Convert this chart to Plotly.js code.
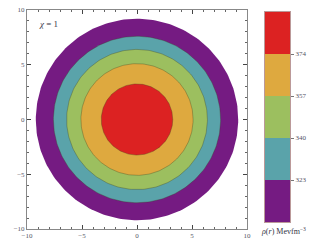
<!DOCTYPE html>
<html><head><meta charset="utf-8">
<script src="https://cdn.plot.ly/plotly-3.0.1.min.js"></script>
<style>html,body{margin:0;padding:0;background:#fff}#plot{width:316px;height:248px}</style>
</head><body><div id="plot"></div>
<script>
// Band boundary radii (outermost first) and their colours
const radii = [9.2, 7.6, 6.4, 5.1, 3.25];
const bandColors = ['#751B82', '#5AA3AA', '#9CBF5F', '#DEA93F', '#DC2222'];
// Colorbar levels (band boundaries) and tick labels
const levelBase = [306, 323, 340, 357, 374];
const levelStep = [17, 17, 17, 17, 17];
const cbTicks = [323, 340, 357, 374];
const axisTicks = [-10, -5, 0, 5, 10];

const traces = [];
const N = 240;
radii.forEach((r, i) => {
  const xs = [], ys = [];
  for (let k = 0; k <= N; k++) {
    const a = 2 * Math.PI * k / N;
    xs.push(r * Math.cos(a)); ys.push(r * Math.sin(a));
  }
  traces.push({
    type: 'scatter', mode: 'lines', x: xs, y: ys, fill: 'toself',
    fillcolor: bandColors[i],
    line: {color: i === 0 ? bandColors[i] : 'rgba(60,60,30,0.55)', width: i === 0 ? 0 : 0.6},
    hoverinfo: 'skip', showlegend: false, xaxis: 'x', yaxis: 'y'
  });
});
traces.push({
  type: 'bar', x: levelBase.map(() => 0), y: levelStep, base: levelBase,
  marker: {color: bandColors, line: {width: 0}},
  xaxis: 'x2', yaxis: 'y2', showlegend: false, hoverinfo: 'skip', width: 1
});

const tickFont = {family: 'Liberation Serif, DejaVu Serif, serif', size: 7, color: '#556'};
const layout = {
  width: 316, height: 248,
  margin: {l: 0, r: 0, t: 0, b: 0},
  paper_bgcolor: '#fff', plot_bgcolor: '#fff',
  bargap: 0,
  xaxis: {
    domain: [27/316, 247/316], range: [-10, 10], tickvals: axisTicks,
    ticktext: axisTicks.map(v => v < 0 ? '−' + Math.abs(v) : String(v)),
    showgrid: false, zeroline: false, showline: true, linecolor: '#888', linewidth: 1,
    mirror: 'allticks', ticks: 'inside', ticklen: 4, tickcolor: '#444', tickwidth: 1,
    minor: {dtick: 1, ticks: 'inside', ticklen: 2, tickcolor: '#666'},
    tickfont: tickFont, fixedrange: true
  },
  yaxis: {
    domain: [1 - 229/248, 1 - 10/248], range: [-10, 10], tickvals: axisTicks,
    ticktext: axisTicks.map(v => v < 0 ? '−' + Math.abs(v) : String(v)),
    showgrid: false, zeroline: false, showline: true, linecolor: '#888', linewidth: 1,
    mirror: 'allticks', ticks: 'inside', ticklen: 4, tickcolor: '#444', tickwidth: 1,
    minor: {dtick: 1, ticks: 'inside', ticklen: 2, tickcolor: '#666'},
    tickfont: tickFont, fixedrange: true
  },
  xaxis2: {
    domain: [265/316, 290/316], range: [-0.5, 0.5], anchor: 'y2',
    showticklabels: false, showgrid: false, zeroline: false, ticks: '',
    showline: true, linecolor: '#b99', linewidth: 1, mirror: true
  },
  yaxis2: {
    domain: [1 - 222/248, 1 - 12/248], range: [306, 391], anchor: 'x2', side: 'right',
    tickvals: cbTicks, ticks: 'outside', ticklen: 3, tickcolor: '#777',
    showgrid: false, zeroline: false, showline: true, linecolor: '#b99', linewidth: 1, mirror: true,
    tickfont: tickFont
  },
  annotations: [
    {xref: 'paper', yref: 'paper', x: 37/316, y: 1 - 24/248, xanchor: 'left', yanchor: 'middle',
     text: '<i>χ</i> = 1', showarrow: false,
     font: {family: 'Liberation Serif, DejaVu Serif, serif', size: 9, color: '#334'}},
    {xref: 'paper', yref: 'paper', x: 283/316, y: 1 - 231/248, xanchor: 'center', yanchor: 'middle',
     text: '<i>ρ</i>(<i>r</i>) Mevfm<sup>−3</sup>', showarrow: false,
     font: {family: 'Liberation Serif, DejaVu Serif, serif', size: 8, color: '#334'}}
  ]
};
Plotly.newPlot('plot', traces, layout, {displayModeBar: false, staticPlot: true});
</script></body></html>
